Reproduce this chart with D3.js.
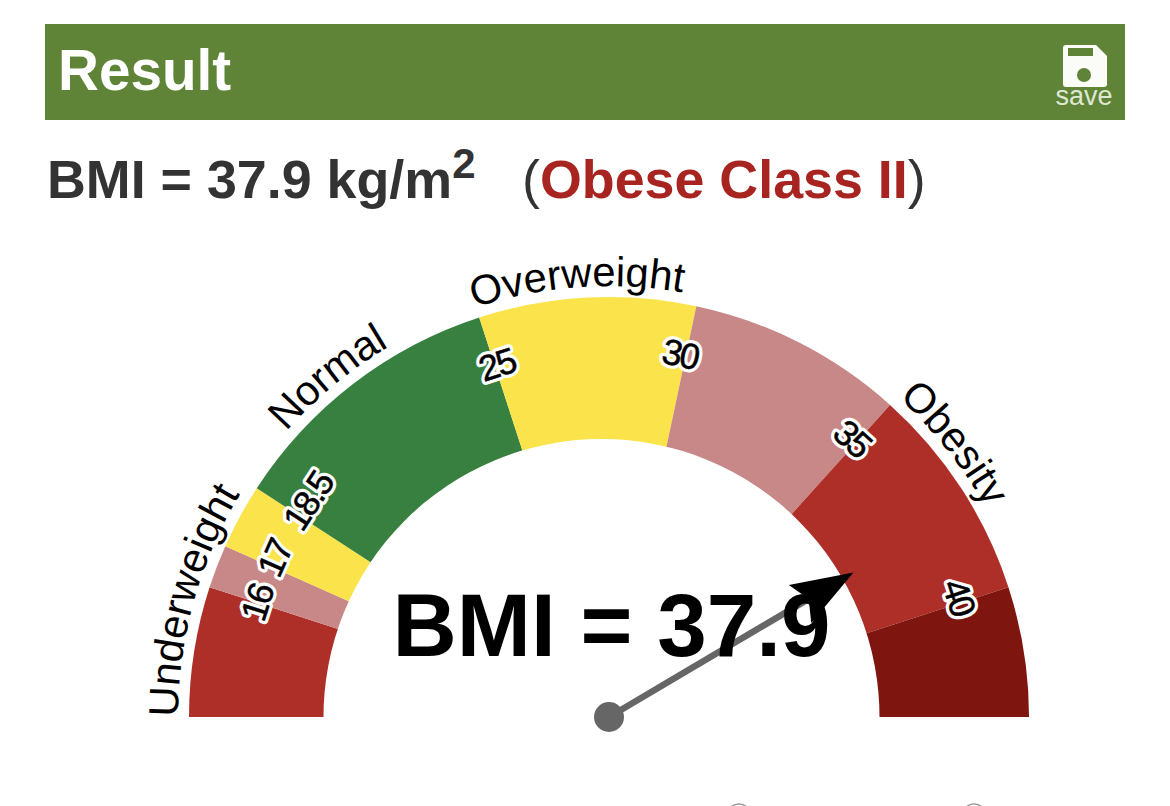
<!DOCTYPE html>
<html>
<head>
<meta charset="utf-8">
<script src="https://cdn.jsdelivr.net/npm/d3@7"></script>
<style>
  html, body { margin: 0; padding: 0; background: #fff; }
  text { font-family: "Liberation Sans", Arial, sans-serif; }
</style>
</head>
<body>
<div id="gauge"></div>
<script>
// values
var bmiValue = 37.9;
var bandStops = [13, 16, 17, 18.5, 25, 30, 35, 40, 43];
var bandColors = ["#ad2f28", "#c88888", "#fbe44b", "#38803f", "#fbe44b", "#c88888", "#ad2f28", "#7e150f"];
var tickValues = [16, 17, 18.5, 25, 30, 35, 40];
var tickLabels = ["16", "17", "18.5", "25", "30", "35", "40"];
var categoryNames = ["Underweight", "Normal", "Overweight", "Obesity"];
var categoryCenters = [15.6, 21.4, 27.3, 36.6];

var svgWidth = 1170;
var svgHeight = 806;
var cx = 609, cy = 717;
var outerR = 420;

var svg = d3.select("#gauge")
  .append("svg")
  .attr("width", svgWidth)
  .attr("height", svgHeight)
  .style("display", "block");

// header bar
svg.append("rect")
  .attr("x", 45).attr("y", 24)
  .attr("width", 1080).attr("height", 96)
  .attr("fill", "#5f8337");

svg.append("text")
  .attr("x", 58).attr("y", 90)
  .attr("font-size", 56.7).attr("font-weight", "bold")
  .attr("fill", "#fff")
  .text("Result");

// save icon
var icon = svg.append("g").attr("transform", "translate(1063,45)");
icon.append("path")
  .attr("d", "M3 0H33L44 11V39Q44 42 41 42H3Q0 42 0 39V3Q0 0 3 0Z")
  .attr("fill", "#fbfcf8");
icon.append("rect")
  .attr("x", 5).attr("y", 3).attr("width", 25).attr("height", 8)
  .attr("fill", "#5f8337");
icon.append("circle")
  .attr("cx", 21).attr("cy", 30).attr("r", 7)
  .attr("fill", "#5f8337");
svg.append("text")
  .attr("x", 1084).attr("y", 105)
  .attr("text-anchor", "middle")
  .attr("font-size", 27)
  .attr("fill", "#dfe8d0")
  .text("save");

// result line
var result = svg.append("text")
  .attr("x", 47).attr("y", 198)
  .attr("font-size", 53.8)
  .attr("fill", "#333");
result.append("tspan").attr("font-weight", "bold").text("BMI = " + bmiValue + " kg/m");
result.append("tspan").attr("font-weight", "bold").attr("font-size", 42).attr("dy", -20).text("2");
result.append("tspan").attr("x", 522).attr("dy", 20).text("(");
result.append("tspan").attr("font-weight", "bold").attr("fill", "#a82420").text("Obese Class II");
result.append("tspan").text(")");

// gauge
var angle = d3.scaleLinear()
  .domain([13, 43])
  .range([-Math.PI / 2, Math.PI / 2]);

var gauge = svg.append("g").attr("transform", `translate(${cx}, ${cy})`);

var wedge = d3.arc().innerRadius(0).outerRadius(outerR);

gauge.selectAll("path.band")
  .data(bandColors)
  .enter()
  .append("path")
  .attr("class", "band")
  .attr("fill", d => d)
  .attr("d", (d, i) => wedge({
    startAngle: angle(bandStops[i]),
    endAngle: angle(bandStops[i + 1])
  }));

// hole of the gauge, its middle sits a bit left of the needle pivot
gauge.append("path")
  .attr("transform", "translate(-7.5, 0)")
  .attr("fill", "#fff")
  .attr("d", d3.arc().innerRadius(0).outerRadius(278)({
    startAngle: -Math.PI / 2 - 0.01,
    endAngle: Math.PI / 2 + 0.01
  }));

// curved category names
var labelR = 431;
var defs = svg.append("defs");
defs.append("path")
  .attr("id", "labelPath")
  .attr("d", `M${-labelR},0 A${labelR},${labelR} 0 0 1 ${labelR},0`);

gauge.selectAll("text.category")
  .data(categoryNames)
  .enter()
  .append("text")
  .attr("class", "category")
  .attr("font-size", 41.7)
  .attr("fill", "#000")
  .attr("text-anchor", "middle")
  .append("textPath")
  .attr("href", "#labelPath")
  .attr("startOffset", (d, i) => (angle(categoryCenters[i]) + Math.PI / 2) / Math.PI * 100 + "%")
  .text(d => d);

// tick labels with white halo
var tickR = 370;
var tickShift = d3.scaleOrdinal().domain(tickValues).range([0, 9, 17, 2, -6, -6, -6]);

var ticks = gauge.selectAll("g.tick")
  .data(tickValues)
  .enter()
  .append("g")
  .attr("class", "tick")
  .attr("transform", d => {
    var deg = angle(d) * 180 / Math.PI;
    return `rotate(${deg}) translate(${tickShift(d)}, ${-tickR})`;
  });

// white halo first, then the digits on top
ticks.append("text")
  .attr("text-anchor", "middle")
  .attr("dy", "0.35em")
  .attr("font-size", 36)
  .attr("letter-spacing", -2.5)
  .attr("fill", "#fff")
  .attr("stroke", "#fff")
  .attr("stroke-width", 7)
  .attr("stroke-linejoin", "round")
  .text((d, i) => tickLabels[i]);

ticks.append("text")
  .attr("text-anchor", "middle")
  .attr("dy", "0.35em")
  .attr("font-size", 36)
  .attr("letter-spacing", -2.5)
  .attr("fill", "#000")
  .attr("stroke", "#000")
  .attr("stroke-width", 0.5)
  .text((d, i) => tickLabels[i]);

// needle
var needleR = 284;
var needleA = angle(bmiValue);
var tipX = needleR * Math.sin(needleA);
var tipY = -needleR * Math.cos(needleA);

gauge.append("line")
  .attr("x1", 0).attr("y1", 0)
  .attr("x2", tipX * 0.85).attr("y2", tipY * 0.85)
  .attr("stroke", "#666")
  .attr("stroke-width", 6.5);

gauge.append("circle")
  .attr("r", 15)
  .attr("fill", "#666");

gauge.append("path")
  .attr("transform", `rotate(${needleA * 180 / Math.PI}) translate(0, ${-needleR})`)
  .attr("d", "M0 0L22 62L0 52L-22 62Z")
  .attr("fill", "#000");

// value in the middle
svg.append("text")
  .attr("x", 611.5).attr("y", 656)
  .attr("text-anchor", "middle")
  .attr("font-size", 89)
  .attr("font-weight", "bold")
  .attr("fill", "#000")
  .text("BMI = " + bmiValue);

// tops of the controls cut off by the bottom edge
svg.selectAll("circle.cut")
  .data([739, 974])
  .enter()
  .append("circle")
  .attr("class", "cut")
  .attr("cx", d => d)
  .attr("cy", 816)
  .attr("r", 12)
  .attr("fill", "none")
  .attr("stroke", "#999")
  .attr("stroke-width", 1.5);
</script>
</body>
</html>
